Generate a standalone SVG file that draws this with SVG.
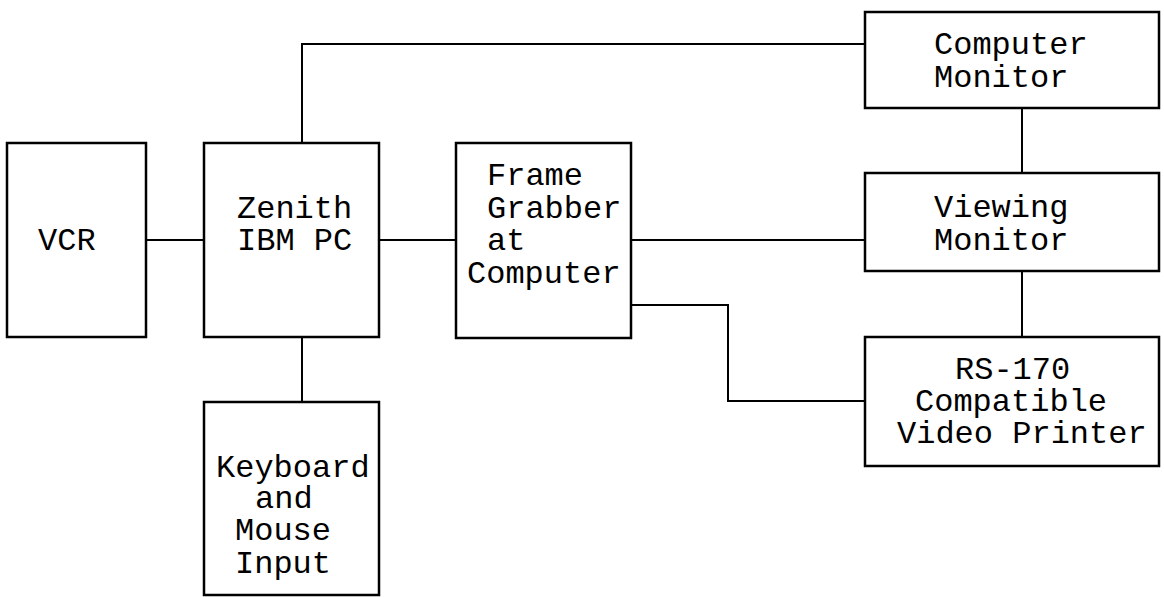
<svg xmlns="http://www.w3.org/2000/svg" width="1164" height="597" viewBox="0 0 1164 597">
<style>
.box{fill:#fff;stroke:#000;stroke-width:2.5}
.ln{fill:none;stroke:#000;stroke-width:2}
text{font-family:"Liberation Mono","Courier New",monospace;font-size:32px;fill:#000}
</style>
<rect width="1164" height="597" fill="#fff"/>
<g id="connectors">
<path class="ln" d="M146 240H204"/>
<path class="ln" d="M379 240H456"/>
<path class="ln" d="M302 143V44H865"/>
<path class="ln" d="M302 337V403"/>
<path class="ln" d="M631 240H865"/>
<path class="ln" d="M631 305H728V401H865"/>
<path class="ln" d="M1022 108V173"/>
<path class="ln" d="M1022 271V337"/>
</g>
<g id="vcr">
<rect class="box" x="7" y="143" width="139" height="194"/>
<text x="38" y="250">VCR</text>
</g>
<g id="zenith">
<rect class="box" x="204" y="143" width="175" height="194"/>
<text x="237" y="218">Zenith</text>
<text x="237" y="250">IBM PC</text>
</g>
<g id="keyboard">
<rect class="box" x="204" y="402" width="175" height="193"/>
<text x="216" y="477">Keyboard</text>
<text x="255" y="508">and</text>
<text x="235" y="540">Mouse</text>
<text x="235" y="573">Input</text>
</g>
<g id="framegrabber">
<rect class="box" x="456" y="143" width="175" height="195"/>
<text x="487" y="185">Frame</text>
<text x="487" y="218">Grabber</text>
<text x="487" y="250">at</text>
<text x="467" y="283">Computer</text>
</g>
<g id="computermonitor">
<rect class="box" x="865" y="12" width="294" height="96"/>
<text x="934" y="54">Computer</text>
<text x="934" y="87">Monitor</text>
</g>
<g id="viewingmonitor">
<rect class="box" x="865" y="173" width="294" height="98"/>
<text x="934" y="217">Viewing</text>
<text x="934" y="250">Monitor</text>
</g>
<g id="printer">
<rect class="box" x="865" y="337" width="294" height="129"/>
<text x="955" y="379">RS-170</text>
<text x="915" y="411">Compatible</text>
<text x="897" y="443">Video Printer</text>
</g>
</svg>
